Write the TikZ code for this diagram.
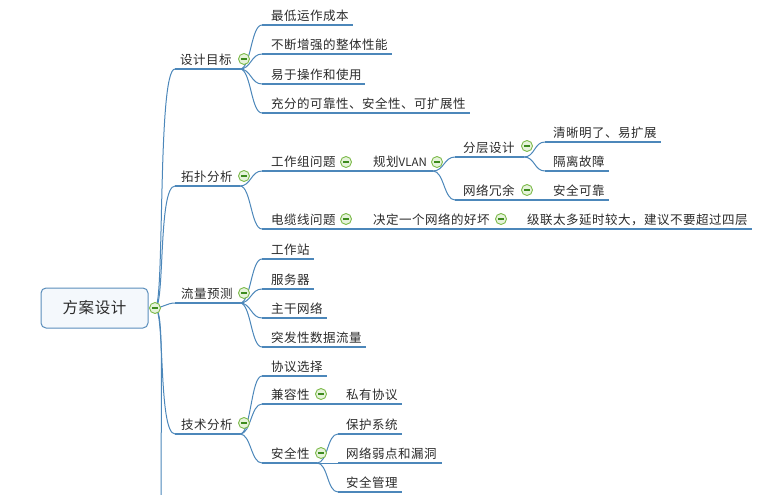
\documentclass[tikz,border=0pt]{standalone}
\usepackage{fontspec}
\setmainfont[LetterSpace=4]{Noto Sans CJK SC}
\newfontfamily\latinf{Noto Sans CJK SC}
\definecolor{lineB}{HTML}{4C87BA}
\definecolor{txt}{HTML}{2B2B2B}
\definecolor{circG}{HTML}{7DBA4B}
\definecolor{circF}{HTML}{E6F3DB}
\definecolor{circM}{HTML}{3D8B1E}
\definecolor{rootF}{HTML}{F4F8FC}
\definecolor{rootD}{HTML}{5A8DBB}
\tikzset{
  lbl/.style={inner sep=0pt, text=txt, font=\fontsize{12.5}{14}\selectfont, anchor=base west},
  uline/.style={draw=lineB, line width=1.1pt},
  conn/.style={draw=lineB, line width=1pt},
  col/.style={circle, draw=circG, fill=circF, minimum size=11pt, inner sep=0pt, line width=0.9pt,
    path picture={\draw[circM, line width=1.1pt] ([xshift=2.6pt]path picture bounding box.west) -- ([xshift=-2.6pt]path picture bounding box.east);}},
  rootbox/.style={draw=rootD, fill=rootF, rounded corners=5pt, line width=1pt, minimum width=107pt, minimum height=40pt, text=txt, font=\fontsize{15.5}{18}\selectfont}
}
% name, left x, underline y, right x, text x, text
\newcommand\mmtopic[6]{%
  \coordinate (#1-l) at (#2,#3);
  \coordinate (#1-r) at (#4,#3);
  \draw[uline] (#1-l) -- (#1-r);
  \node[lbl] (#1) at (#5,#3-4.5) {#6};}
\newcommand\mmconn[2]{\draw[conn] (#1) .. controls ([xshift=11pt]#1) and ([xshift=-11pt]#2) .. (#2);}
\newcommand\mmcol[3]{\node[col] (#1) at (#2,#3) {};}
\begin{document}
\begin{tikzpicture}[x=1pt,y=-1pt]
\useasboundingbox (0,0) rectangle (768,495);
\coordinate (hubc) at (155,308);
\coordinate (down) at (161,500);
% level 1
\mmtopic{A}{175}{69}{240}{180}{设计目标}
\mmtopic{B}{175}{186}{240}{181}{拓扑分析}
\mmtopic{C}{175}{303}{240}{181}{流量预测}
\mmtopic{D}{175}{434}{240}{181}{技术分析}
% trunk
\draw[conn] (hubc) .. controls (165,308) and (157,69) .. (A-l);
\draw[conn] (hubc) .. controls (165,308) and (158,186) .. (B-l);
\draw[conn] (hubc) .. controls (162,308) and (167,303) .. (C-l);
\draw[conn] (hubc) .. controls (165,308) and (158,434) .. (D-l);
\draw[conn] (hubc) .. controls (164,308) and (161,380) .. (down);
% A children
\mmtopic{A1}{262}{25}{353}{271}{最低运作成本}
\mmtopic{A2}{262}{54}{392}{271}{不断增强的整体性能}
\mmtopic{A3}{262}{84}{365}{271}{易于操作和使用}
\mmtopic{A4}{262}{113}{470}{271}{充分的可靠性、安全性、可扩展性}
\mmconn{A-r}{A1-l}\mmconn{A-r}{A2-l}\mmconn{A-r}{A3-l}\mmconn{A-r}{A4-l}
% B children
\mmtopic{B1}{262}{171}{343}{271}{工作组问题}
\mmtopic{B1a}{350}{171}{433}{373}{规划{\latinf\fontsize{11.5}{14}\selectfont VLAN}}
\mmtopic{B1a1}{455}{157}{524}{463}{分层设计}
\mmtopic{B1a1a}{545}{142}{661}{553}{清晰明了、易扩展}
\mmtopic{B1a1b}{545}{171}{609}{553}{隔离故障}
\mmtopic{B1a2}{455}{200}{524}{463}{网络冗余}
\mmtopic{B1a2a}{530}{200}{609}{553}{安全可靠}
\mmtopic{B2}{262}{229}{343}{271}{电缆线问题}
\mmtopic{B2a}{350}{229}{497}{373}{决定一个网络的好坏}
\mmtopic{B2a1}{505}{229}{752}{527}{级联太多延时较大，建议不要超过四层}
\mmconn{B-r}{B1-l}\mmconn{B-r}{B2-l}
\draw[uline] (B1-r) -- (B1a-l);
\mmconn{B1a-r}{B1a1-l}\mmconn{B1a-r}{B1a2-l}
\mmconn{B1a1-r}{B1a1a-l}\mmconn{B1a1-r}{B1a1b-l}
\draw[uline] (B1a2-r) -- (B1a2a-l);
\draw[uline] (B2-r) -- (B2a-l);
\draw[uline] (B2a-r) -- (B2a1-l);
% C children
\mmtopic{C1}{262}{259}{314}{271}{工作站}
\mmtopic{C2}{262}{289}{314}{271}{服务器}
\mmtopic{C3}{262}{318}{327}{271}{主干网络}
\mmtopic{C4}{262}{347}{366}{271}{突发性数据流量}
\mmconn{C-r}{C1-l}\mmconn{C-r}{C2-l}\mmconn{C-r}{C3-l}\mmconn{C-r}{C4-l}
% D children
\mmtopic{D1}{262}{376}{327}{271}{协议选择}
\mmtopic{D2}{262}{404}{317}{271}{兼容性}
\mmtopic{D2a}{325}{404}{402}{346}{私有协议}
\mmtopic{D3}{262}{463}{317}{271}{安全性}
\mmtopic{D3a}{338}{434}{402}{346}{保护系统}
\mmtopic{D3b}{338}{463}{442}{346}{网络弱点和漏洞}
\mmtopic{D3c}{338}{492}{402}{346}{安全管理}
\mmconn{D-r}{D1-l}\mmconn{D-r}{D2-l}\mmconn{D-r}{D3-l}
\draw[uline] (D2-r) -- (D2a-l);
\mmconn{D3-r}{D3a-l}\mmconn{D3-r}{D3b-l}\mmconn{D3-r}{D3c-l}
% root
\node[rootbox] (root) at (94.5,308) {方案设计};
% collapse circles
\mmcol{hub}{155}{308}
\mmcol{cA}{244}{59}
\mmcol{cB}{244}{176}
\mmcol{cC}{244}{293}
\mmcol{cD}{244}{423}
\mmcol{cB1}{346}{162}
\mmcol{cB1a}{437}{162}
\mmcol{cB1a1}{527}{146}
\mmcol{cB1a2}{527}{190}
\mmcol{cB2}{346}{219}
\mmcol{cB2a}{501}{219}
\mmcol{cD2}{321}{394}
\mmcol{cD3}{321}{453}
\end{tikzpicture}
\end{document}
